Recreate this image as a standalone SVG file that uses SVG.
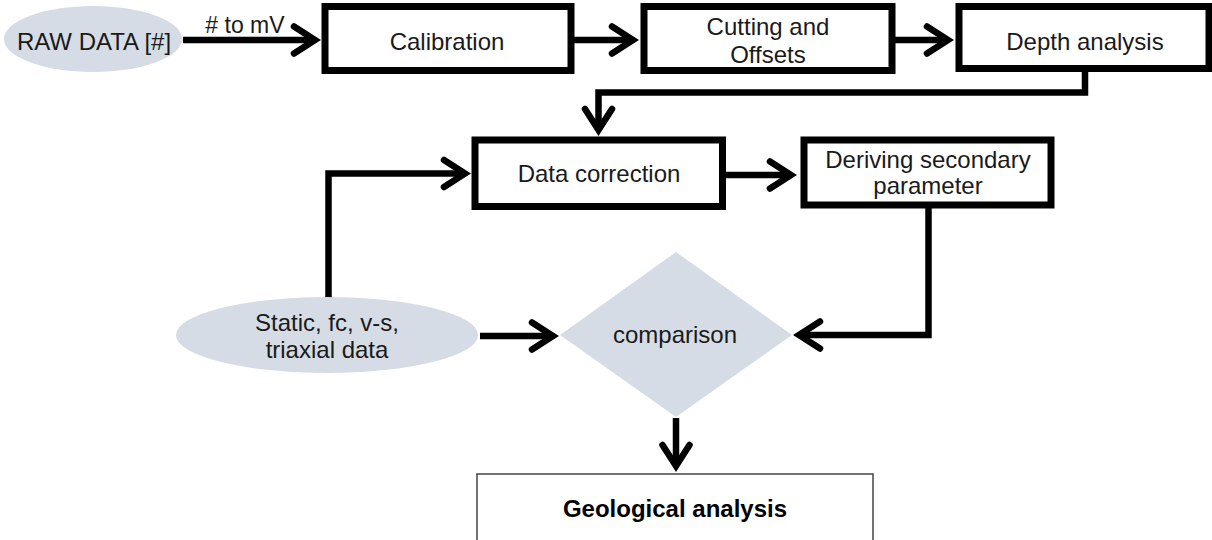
<svg xmlns="http://www.w3.org/2000/svg" width="1212" height="540" viewBox="0 0 1212 540">
  <style>
    .lbl { font-family: "Liberation Sans", Arial, sans-serif; font-size: 24px; fill: #1a1a1a; text-anchor: middle; }
    .edge-lbl { font-size: 23px; }
    .bold { font-weight: bold; fill: #000; }
    .box { fill: #fff; stroke: #000; stroke-width: 7; }
    .thin { fill: #fff; stroke: #444; stroke-width: 1.5; }
    .soft { fill: #d6dce5; stroke: none; }
    .wire { fill: none; stroke: #000; stroke-width: 6.5; marker-end: url(#chev); }
  </style>
  <defs>
    <marker id="chev" markerUnits="userSpaceOnUse" markerWidth="60" markerHeight="60" viewBox="-40 -30 60 60" refX="0" refY="0" orient="auto" overflow="visible">
      <path d="M-21,-13.5 L0,0 L-21,13.5" fill="none" stroke="#000" stroke-width="6.5" stroke-linecap="round" stroke-linejoin="miter"/>
    </marker>
  </defs>

  <!-- connectors -->
  <g id="connectors">
    <path class="wire" d="M183,40 H315"/>
    <path class="wire" d="M574,40 H633"/>
    <path class="wire" d="M895,40 H948"/>
    <path class="wire" d="M1085,71 V92.5 H598.5 V130"/>
    <path class="wire" d="M328.5,298 V173.5 H465"/>
    <path class="wire" d="M726,175 H791"/>
    <path class="wire" d="M480,336 H553"/>
    <path class="wire" d="M928.5,208 V335 H799"/>
    <path class="wire" d="M676,418 V466"/>
    <text class="lbl edge-lbl" x="245" y="33"># to mV</text>
  </g>

  <g id="raw-data">
    <ellipse class="soft" cx="93" cy="39" rx="89" ry="33"/>
    <text class="lbl" x="94" y="50">RAW DATA [#]</text>
  </g>

  <g id="calibration">
    <rect class="box" x="325" y="6.5" width="246" height="64"/>
    <text class="lbl" x="447" y="50">Calibration</text>
  </g>

  <g id="cutting-offsets">
    <rect class="box" x="644" y="6.5" width="248" height="64"/>
    <text class="lbl" x="768" y="35">Cutting and</text>
    <text class="lbl" x="768" y="63">Offsets</text>
  </g>

  <g id="depth-analysis">
    <rect class="box" x="959" y="6.5" width="250" height="62"/>
    <text class="lbl" x="1085" y="50">Depth analysis</text>
  </g>

  <g id="data-correction">
    <rect class="box" x="475" y="140" width="247.5" height="66.5"/>
    <text class="lbl" x="599" y="182">Data correction</text>
  </g>

  <g id="secondary-parameter">
    <rect class="box" x="804" y="140" width="247" height="65"/>
    <text class="lbl" x="928" y="168">Deriving secondary</text>
    <text class="lbl" x="928" y="194">parameter</text>
  </g>

  <g id="external-data">
    <ellipse class="soft" cx="327" cy="335" rx="151" ry="38"/>
    <text class="lbl" x="327" y="331">Static, fc, v-s,</text>
    <text class="lbl" x="327" y="358">triaxial data</text>
  </g>

  <g id="comparison">
    <polygon class="soft" points="676,252 792,335 676,417 560,335"/>
    <text class="lbl" x="675" y="343">comparison</text>
  </g>

  <g id="geological-analysis">
    <rect class="thin" x="477" y="474" width="396" height="90"/>
    <text class="lbl bold" x="675" y="517">Geological analysis</text>
  </g>
</svg>
